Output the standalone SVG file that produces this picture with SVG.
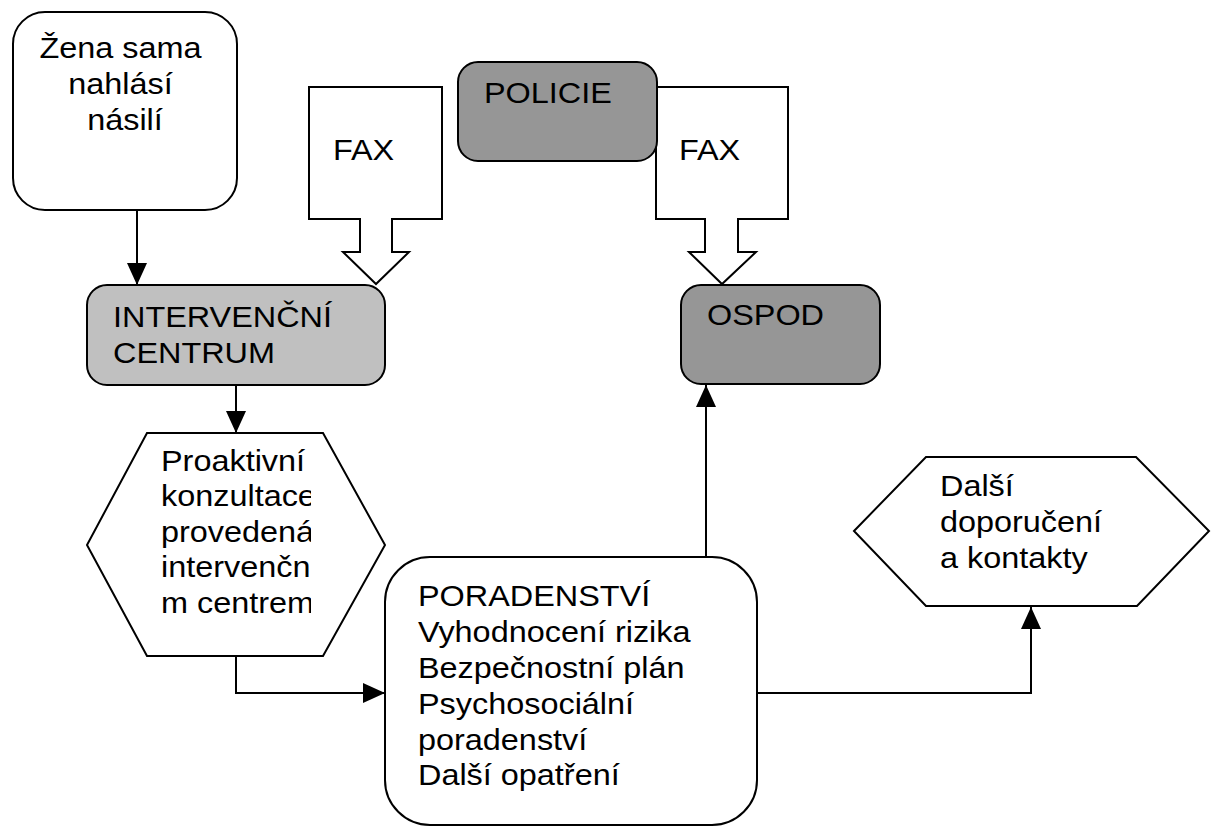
<svg xmlns="http://www.w3.org/2000/svg" width="1217" height="827" viewBox="0 0 1217 827">
<style>
  .shape { stroke: #000; stroke-width: 2; }
  .white { fill: #fff; }
  .light { fill: #c0c0c0; }
  .dark { fill: #969696; }
  .lbl { font-family: "Liberation Sans", Arial, sans-serif; font-size: 30px; fill: #000; }
  .conn { fill: none; stroke: #000; stroke-width: 2; }
</style>
<defs>
  <marker id="arr" viewBox="0 0 22 20" refX="22" refY="10" markerWidth="22" markerHeight="20" markerUnits="userSpaceOnUse" orient="auto">
    <path d="M0,0 L22,10 L0,20 z" fill="#000"/>
  </marker>
  <clipPath id="hexclip">
    <rect x="140" y="430" width="171" height="230"/>
  </clipPath>
</defs>
<rect width="1217" height="827" fill="#fff"/>

<g id="fax-left">
  <polygon class="shape white" points="309,87 442,87 442,219 392,219 392,252 409,252 376,284 343,252 360,252 360,219 309,219"/>
  <text class="lbl" transform="translate(333,160) scale(1.08,1)">FAX</text>
</g>
<g id="fax-right">
  <polygon class="shape white" points="656,87 788,87 788,219 738,219 738,252 756,252 722,284 689,252 705,252 705,219 656,219"/>
  <text class="lbl" transform="translate(679,160) scale(1.08,1)">FAX</text>
</g>

<g id="zena">
  <rect class="shape white" x="13" y="12" width="224" height="198" rx="32"/>
  <text class="lbl" text-anchor="middle" transform="translate(125,58) scale(1.08,1)">
    <tspan x="0" y="0">Žena sama</tspan>
    <tspan x="0" y="36">nahlásí</tspan>
    <tspan x="0" y="72">násilí</tspan>
  </text>
</g>

<g id="policie">
  <rect class="shape dark" x="458" y="62" width="199" height="99" rx="20"/>
  <text class="lbl" transform="translate(484,103) scale(1.08,1)">POLICIE</text>
</g>

<g id="intervencni">
  <rect class="shape light" x="87" y="285" width="298" height="100" rx="20"/>
  <text class="lbl" transform="translate(113,327) scale(1.08,1)">
    <tspan x="0" y="0">INTERVENČNÍ</tspan>
    <tspan x="0" y="36">CENTRUM</tspan>
  </text>
</g>

<g id="ospod">
  <rect class="shape dark" x="681" y="285" width="199" height="99" rx="20"/>
  <text class="lbl" transform="translate(707,325) scale(1.08,1)">OSPOD</text>
</g>

<g id="proaktivni">
  <polygon class="shape white" points="147,433 323,433 385,545 323,656 147,656 87,545"/>
  <g clip-path="url(#hexclip)">
    <text class="lbl" transform="translate(161,471) scale(1.08,1)">
      <tspan x="0" y="0">Proaktivní</tspan>
      <tspan x="0" y="35.5">konzultace</tspan>
      <tspan x="0" y="71">provedená</tspan>
      <tspan x="0" y="106.5">intervenčním</tspan>
      <tspan x="0" y="142">m centrem</tspan>
    </text>
  </g>
</g>

<g id="poradenstvi">
  <rect class="shape white" x="385" y="557" width="372" height="268" rx="45"/>
  <text class="lbl" transform="translate(418,606) scale(1.08,1)">
    <tspan x="0" y="0">PORADENSTVÍ</tspan>
    <tspan x="0" y="36">Vyhodnocení rizika</tspan>
    <tspan x="0" y="72">Bezpečnostní plán</tspan>
    <tspan x="0" y="108">Psychosociální</tspan>
    <tspan x="0" y="144">poradenství</tspan>
    <tspan x="0" y="179">Další opatření</tspan>
  </text>
</g>

<g id="dalsi">
  <polygon class="shape white" points="854,531 926,457 1136,457 1209,531 1137,606 926,606"/>
  <text class="lbl" transform="translate(940,496) scale(1.08,1)">
    <tspan x="0" y="0">Další</tspan>
    <tspan x="0" y="36">doporučení</tspan>
    <tspan x="0" y="72">a kontakty</tspan>
  </text>
</g>

<g id="connectors">
  <path class="conn" d="M137,210 V285" marker-end="url(#arr)"/>
  <path class="conn" d="M236,385 V433" marker-end="url(#arr)"/>
  <path class="conn" d="M236,656 V693 H385" marker-end="url(#arr)"/>
  <path class="conn" d="M706,557 V385" marker-end="url(#arr)"/>
  <path class="conn" d="M757,693 H1031 V607" marker-end="url(#arr)"/>
</g>
</svg>
